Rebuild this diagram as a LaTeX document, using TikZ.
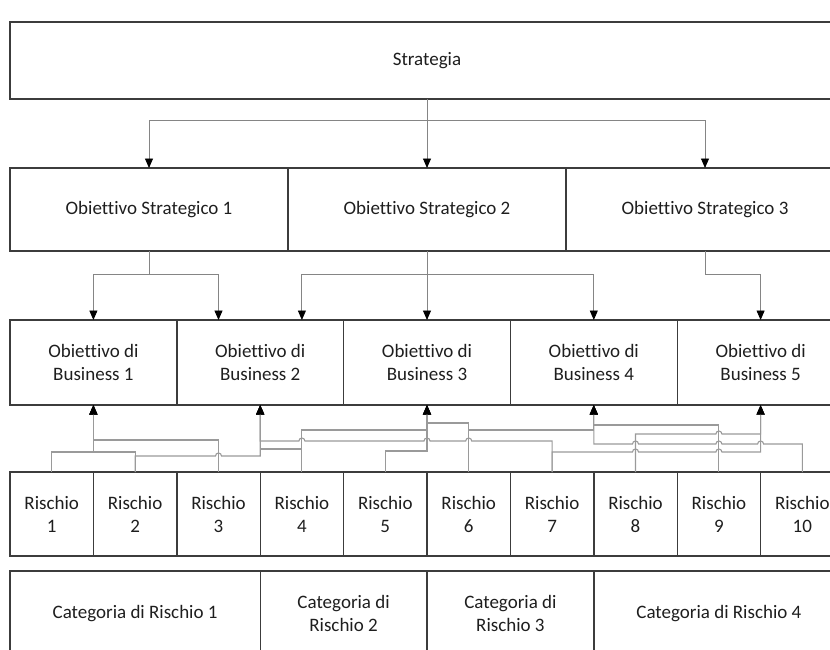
\documentclass[tikz,border=0pt]{standalone}
\usepackage{fontspec}
\setmainfont{Carlito}[RawFeature={-liga}]
\usetikzlibrary{arrows.meta}
\definecolor{boxline}{HTML}{3C3C3C}
\definecolor{txt}{HTML}{1E1E1E}
\definecolor{linkgray}{HTML}{9A9A9A}
\definecolor{topgray}{HTML}{858585}
\begin{document}
\begin{tikzpicture}[x=1pt,y=-1pt,
  box/.style={draw=boxline, line width=1.4pt, rectangle, inner sep=0pt, outer sep=0pt,
    align=center, text=txt, font=\fontsize{19}{23}\selectfont},
  stratbox/.style={box, minimum width=834pt, minimum height=77pt},
  osbox/.style={box, minimum width=278pt, minimum height=83pt},
  bobox/.style={box, minimum width=166.8pt, minimum height=85pt},
  rbox/.style={box, minimum width=83.4pt, minimum height=84pt},
  catwide/.style={box, minimum width=250.2pt, minimum height=85pt},
  catnarrow/.style={box, minimum width=166.8pt, minimum height=85pt},
  tip/.style={-{Triangle[length=9.5pt,width=8pt,color=black]}},
  toplink/.style={draw=topgray, line width=0.9pt, tip},
  link/.style={draw=linkgray, line width=1.1pt, tip},
]
\useasboundingbox (0,0) rectangle (830,649);
\clip (0,0) rectangle (830,649);

% strategy
\node[stratbox] (strat) at (427,60.5) {Strategia};

% strategic objectives
\node[osbox] (os1) at (149,209.5) {Obiettivo Strategico 1};
\node[osbox] (os2) at (427,209.5) {Obiettivo Strategico 2};
\node[osbox] (os3) at (705,209.5) {Obiettivo Strategico 3};

% business objectives
\node[bobox] (bo1) at (93.4,362.5)  {Obiettivo di\\Business 1};
\node[bobox] (bo2) at (260.2,362.5) {Obiettivo di\\Business 2};
\node[bobox] (bo3) at (427,362.5)   {Obiettivo di\\Business 3};
\node[bobox] (bo4) at (593.8,362.5) {Obiettivo di\\Business 4};
\node[bobox] (bo5) at (760.6,362.5) {Obiettivo di\\Business 5};

% risks
\node[rbox] (r1)  at (51.7,514)  {Rischio\\1};
\node[rbox] (r2)  at (135.1,514) {Rischio\\2};
\node[rbox] (r3)  at (218.5,514) {Rischio\\3};
\node[rbox] (r4)  at (301.9,514) {Rischio\\4};
\node[rbox] (r5)  at (385.3,514) {Rischio\\5};
\node[rbox] (r6)  at (468.7,514) {Rischio\\6};
\node[rbox] (r7)  at (552.1,514) {Rischio\\7};
\node[rbox] (r8)  at (635.5,514) {Rischio\\8};
\node[rbox] (r9)  at (718.9,514) {Rischio\\9};
\node[rbox] (r10) at (802.3,514) {Rischio\\10};

% risk categories
\node[catwide]   (cat1) at (135.1,613.5) {Categoria di Rischio 1};
\node[catnarrow] (cat2) at (343.6,613.5) {Categoria di\\Rischio 2};
\node[catnarrow] (cat3) at (510.4,613.5) {Categoria di\\Rischio 3};
\node[catwide]   (cat4) at (718.9,613.5) {Categoria di Rischio 4};

% strategy -> strategic objectives
\draw[toplink] (strat.south) -- ++(0,21) -| (os1.north);
\draw[toplink] (strat.south) -- (os2.north);
\draw[toplink] (strat.south) -- ++(0,21) -| (os3.north);

% strategic objectives -> business objectives
\draw[toplink] (os1.south) -- ++(0,23) -| (bo1.north);
\draw[toplink] (os1.south) -- ++(0,23) -| ([xshift=-41.7pt]bo2.north);
\draw[toplink] (os2.south) -- ++(0,23) -| ([xshift=41.7pt]bo2.north);
\draw[toplink] (os2.south) -- (bo3.north);
\draw[toplink] (os2.south) -- ++(0,23) -| (bo4.north);
\draw[toplink] (os3.south) -- ++(0,23) -| (bo5.north);

% risks -> business objectives (line jumps where lines cross)
\draw[link] (r1.north) -- ++(0,-20) -| (bo1.south);
\draw[link] (r2.north) -- ++(0,-20) -| (bo1.south);
\draw[link] (r3.north) -- ++(0,-32) -| (bo1.south);
\draw[link] (r2.north) -- ++(0,-16) -- (215.5,456)
  arc[start angle=180,end angle=360,radius=3] -| (bo2.south);
\draw[link] (r4.north) -- ++(0,-23) -| (bo2.south);
\draw[link] (r4.north) -- ++(0,-42) -| (bo3.south);
\draw[link] (r5.north) -- ++(0,-21) -| (bo3.south);
\draw[link] (r6.north) -- ++(0,-49) -| (bo3.south);
\draw[link] (r6.north) -- ++(0,-42) -| (bo4.south);
\draw[link] (r7.north) -- ++(0,-31) -- (471.7,441)
  arc[start angle=0,end angle=-180,radius=3] -- (430,441)
  arc[start angle=0,end angle=-180,radius=3] -- (304.9,441)
  arc[start angle=0,end angle=-180,radius=3] -| (bo2.south);
\draw[link] (r7.north) -- ++(0,-20) -- (632.5,452)
  arc[start angle=180,end angle=360,radius=3] -- (715.9,452)
  arc[start angle=180,end angle=360,radius=3] -| (bo5.south);
\draw[link] (r8.north) -- ++(0,-38) -- (715.9,434)
  arc[start angle=180,end angle=360,radius=3] -| (bo5.south);
\draw[link] (r9.north) -- ++(0,-47) -| (bo4.south);
\draw[link] (r10.north) -- ++(0,-28) -- (763.6,444)
  arc[start angle=0,end angle=-180,radius=3] -- (721.9,444)
  arc[start angle=0,end angle=-180,radius=3] -- (638.5,444)
  arc[start angle=0,end angle=-180,radius=3] -| (bo4.south);
\end{tikzpicture}
\end{document}
